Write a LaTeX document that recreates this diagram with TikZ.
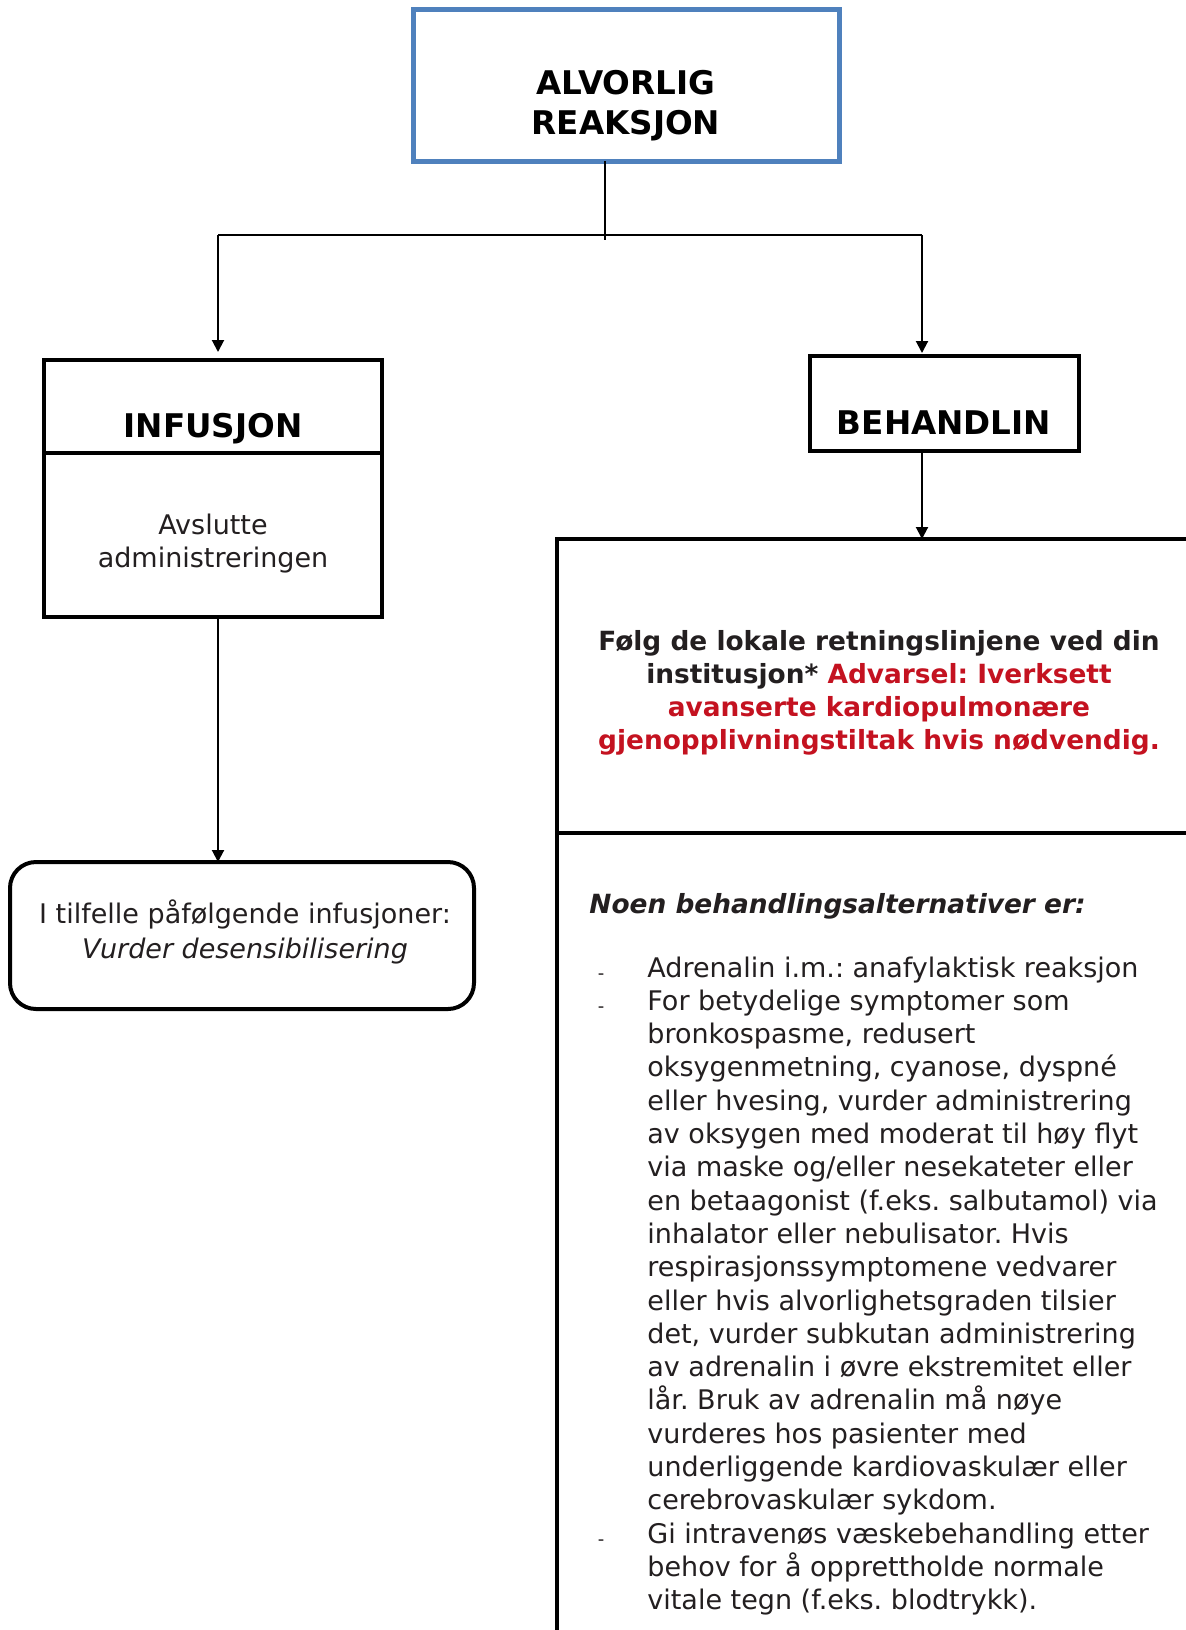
\documentclass[tikz,border=0pt]{standalone}
\usepackage{fontspec}
\setmainfont{DejaVu Sans}
\usetikzlibrary{arrows.meta,calc}
\definecolor{topblue}{RGB}{79,129,189}
\definecolor{warnred}{RGB}{196,18,32}
\definecolor{txt}{RGB}{35,31,32}
\frenchspacing
\begin{document}
\begin{tikzpicture}[x=0.5pt,y=-0.5pt,
  boxs/.style={draw=black,line width=2pt,fill=none,inner sep=0pt,outer sep=0pt},
  head/.style={inner sep=0pt,font=\fontsize{16.3}{19}\selectfont\bfseries,text=black},
  body/.style={inner sep=0pt,font=\fontsize{13.5}{16.6}\selectfont,text=txt},
  bbody/.style={inner sep=0pt,font=\fontsize{13.2}{16.6}\selectfont\bfseries,text=txt},
  dashmark/.style={inner sep=0pt,font=\fontsize{9}{10}\selectfont,text=txt},
  conn/.style={draw=black,line width=1pt},
  arr/.style={conn,-{Triangle[width=6pt,length=6pt]}}]
\clip (0,0) rectangle (1186,1630);
\fill[white] (0,0) rectangle (1186,1630);
% boxes
\node[boxs,draw=topblue,line width=2.5pt,minimum width=213pt,minimum height=76pt] (top) at (626,85) {};
\node[boxs,minimum width=169pt,minimum height=46.5pt] (inf) at (213,406.5) {};
\node[boxs,minimum width=169pt,minimum height=82pt] (infb) at (213,535) {};
\node[boxs,rounded corners=13pt,minimum width=232pt,minimum height=73.5pt] (des) at (242,935.5) {};
\node[boxs,minimum width=134.5pt,minimum height=47.5pt] (beh) at (944.5,403.5) {};
\node[boxs,minimum width=322pt,minimum height=147pt] (bigtop) at (879,686) {};
\node[boxs,minimum width=322pt,minimum height=423.5pt] (bigbot) at (879,1256.5) {};
% connectors
\coordinate (jt) at (605,240);
\coordinate (lc) at (218,235);
\coordinate (rc) at (922,235);
\draw[conn] (top.south -| jt) -- (jt);
\draw[conn] (lc) -- (rc);
\draw[arr,shorten >=4pt] (lc) -- (lc |- inf.north);
\draw[arr,shorten >=1.5pt] (rc) -- (rc |- beh.north);
\draw[arr] (lc |- infb.south) -- (lc |- des.north);
\draw[arr] (rc |- beh.south) -- (rc |- bigtop.north);
% texts
\node[head,anchor=base] (t1) at (626,94) {ALVORLIG};
\node[head,anchor=base] (t2) at (626,134) {REAKSJON};
\node[head,anchor=base] (t3) at (213,437.5) {INFUSJON};
\node[head,anchor=base] (t4) at (944,434.5) {BEHANDLIN};
\node[body,anchor=base] (t5) at (213,534) {Avslutte};
\node[body,anchor=base] (t6) at (213,567) {administreringen};
\node[body,anchor=base] (t7) at (245,923.5) {I tilfelle påfølgende infusjoner:};
\node[body,anchor=base] (t8) at (245,958.5) {\itshape Vurder desensibilisering};
\node[bbody,anchor=base] (w1) at (879,650) {Følg de lokale retningslinjene ved din};
\node[bbody,anchor=base] (w2) at (879,683) {institusjon* \textcolor{warnred}{Advarsel: Iverksett}};
\node[bbody,anchor=base,text=warnred] (w3) at (879,716) {avanserte kardiopulmonære};
\node[bbody,anchor=base,text=warnred] (w4) at (879,749) {gjenopplivningstiltak hvis nødvendig.};
\node[bbody,anchor=base west] (noen) at (589,913) {\itshape Noen behandlingsalternativer er:};
\foreach \t [count=\i] in {
  Adrenalin i.m.: anafylaktisk reaksjon,
  For betydelige symptomer som,
  {bronkospasme, redusert},
  {oksygenmetning, cyanose, dyspné},
  {eller hvesing, vurder administrering},
  av oksygen med moderat til høy flyt,
  via maske og/eller nesekateter eller,
  en betaagonist (f.eks. salbutamol) via,
  inhalator eller nebulisator. Hvis,
  respirasjonssymptomene vedvarer,
  eller hvis alvorlighetsgraden tilsier,
  {det, vurder subkutan administrering},
  av adrenalin i øvre ekstremitet eller,
  lår. Bruk av adrenalin må nøye,
  vurderes hos pasienter med,
  underliggende kardiovaskulær eller,
  cerebrovaskulær sykdom.,
  Gi intravenøs væskebehandling etter,
  behov for å opprettholde normale,
  vitale tegn (f.eks. blodtrykk).}
  \node[body,anchor=base west] (l\i) at (647,{977+(\i-1)*33.3}) {\t};
\foreach \i in {1,2,18}
  \node[dashmark,anchor=base] (d\i) at (601,{979+(\i-1)*33.3}) {-};
\end{tikzpicture}
\end{document}
